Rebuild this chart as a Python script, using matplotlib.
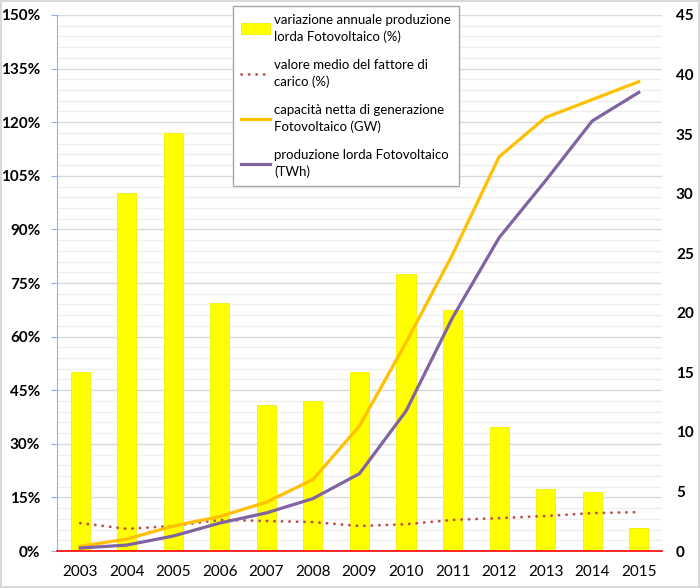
import matplotlib.pyplot as plt
from matplotlib.ticker import MultipleLocator, FuncFormatter

years = [2003, 2004, 2005, 2006, 2007, 2008, 2009, 2010, 2011, 2012, 2013, 2014, 2015]
# variazione annuale produzione lorda (%)
variazione = [50.1, 100.2, 117.0, 69.4, 40.9, 42.0, 50.2, 77.5, 67.5, 34.7, 17.4, 16.5, 6.4]
# valore medio del fattore di carico (%)
fattore_carico = [7.8, 6.2, 7.0, 8.7, 8.4, 8.1, 7.0, 7.5, 8.7, 9.2, 9.8, 10.6, 10.9]
# capacità netta (GW)
capacita = [0.4, 1.0, 2.1, 2.9, 4.1, 6.0, 10.5, 17.5, 24.9, 33.1, 36.4, 37.9, 39.4]
# produzione lorda (TWh)
produzione = [0.25, 0.5, 1.26, 2.35, 3.2, 4.4, 6.5, 11.75, 19.6, 26.3, 31.1, 36.1, 38.5]

labels = [
    "variazione annuale produzione\nlorda Fotovoltaico (%)",
    "valore medio del fattore di\ncarico (%)",
    "capacità netta di generazione\nFotovoltaico (GW)",
    "produzione lorda Fotovoltaico\n(TWh)",
]

plt.rcParams["font.family"] = ["Lato", "DejaVu Sans"]

fig = plt.figure(figsize=(7, 5.88), dpi=100)
fig.patch.set_edgecolor("#d9d9d9")
fig.patch.set_linewidth(1.5)
ax = fig.add_axes([0.0814, 0.0629, 0.8643, 0.9116])
ax2 = ax.twinx()

x = list(range(len(years)))
bars = ax.bar(x, variazione, width=0.41, color="#ffff00", edgecolor="#f0f000",
              linewidth=0.6, zorder=2, label=labels[0])
dots, = ax.plot(x, fattore_carico, linestyle=(0, (0.1, 2.6)), color="#c0504d",
                linewidth=2, dash_capstyle="round", zorder=3, label=labels[1])
cap, = ax2.plot(x, capacita, color="#ffc000", linewidth=2.3, zorder=3, label=labels[2])
prod, = ax2.plot(x, produzione, color="#8064a2", linewidth=2.3, zorder=3, label=labels[3])

ax.set_xlim(-0.5, len(years) - 0.5)
ax.set_ylim(0, 150)
ax2.set_ylim(0, 45)
ax.set_xticks(x)
ax.set_xticklabels([str(y) for y in years], fontsize=11)
ax.yaxis.set_major_locator(MultipleLocator(15))
ax.yaxis.set_minor_locator(MultipleLocator(3))
ax.yaxis.set_major_formatter(FuncFormatter(lambda v, p: f"{v:.0f}%"))
ax2.yaxis.set_major_locator(MultipleLocator(5))
for lab in ax.get_yticklabels() + ax2.get_yticklabels():
    lab.set_fontsize(11)
    lab.set_fontweight("bold")

ax.grid(axis="y", which="major", color="#d9d9d9", linewidth=1, zorder=0)
ax.grid(axis="y", which="minor", color="#efefef", linewidth=1, zorder=0)
ax.set_axisbelow(True)

ax.tick_params(axis="x", length=0, pad=10)
ax.tick_params(axis="y", which="major", length=4, color="#8eb4e3", pad=8)
ax.tick_params(axis="y", which="minor", length=0)
ax2.tick_params(axis="y", length=0, pad=10)

for a in (ax, ax2):
    for s in ("top", "right"):
        a.spines[s].set_visible(False)
ax2.spines["left"].set_visible(False)
ax2.spines["bottom"].set_visible(False)
ax.spines["left"].set_color("#8eb4e3")
ax.spines["bottom"].set_color("#ff0000")
ax.spines["bottom"].set_linewidth(1.2)

leg = ax2.legend([bars, dots, cap, prod], labels, loc="upper left",
                 bbox_to_anchor=(0.291, 1.017), fontsize=9.5, frameon=True,
                 fancybox=False, edgecolor="#a6a6a6", handlelength=2.2,
                 handleheight=0.9, handletextpad=0.3, labelspacing=1.2,
                 borderpad=0.6, borderaxespad=0)
for t in leg.get_texts():
    t.set_linespacing(1.45)
leg.get_frame().set_linewidth(1)
leg.get_frame().set_alpha(1)

fig.savefig("out.png", dpi=100)
